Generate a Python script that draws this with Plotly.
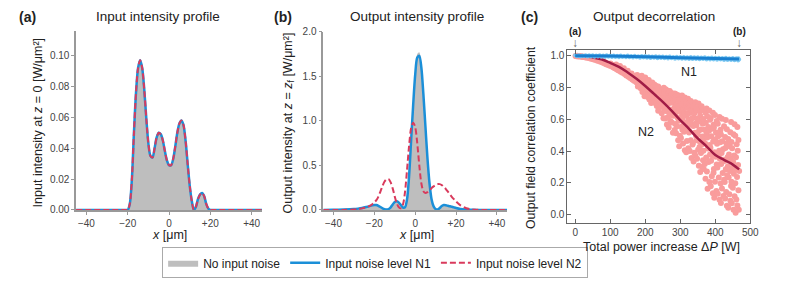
import plotly.graph_objects as go

FONT = "Liberation Sans, Arial, sans-serif"

# ---------------- Panel (a): input intensity profile ----------------
x_in = [-45, -21, -20, -19, -18, -17, -16, -15, -14, -13, -12, -11, -10, -9, -8, -7, -6, -5, -4, -3, -2, -1,
        0, 1, 2, 3, 4, 5, 6, 7, 8, 9, 10, 11, 12, 13, 14, 15, 16, 17, 18, 19, 20, 21, 45]
y_in = [0, 0, 0.000, 0.004, 0.020, 0.050, 0.076, 0.092, 0.097, 0.092, 0.078, 0.059, 0.043, 0.035, 0.034, 0.040,
        0.047, 0.050, 0.049, 0.045, 0.038, 0.032, 0.029, 0.029, 0.033, 0.041, 0.050, 0.056, 0.058, 0.055, 0.045,
        0.030, 0.016, 0.006, 0.000, 0.002, 0.007, 0.010, 0.011, 0.009, 0.004, 0.001, 0.000, 0, 0]

# ---------------- Panel (b): output intensity profile ----------------
x_out = [-45, -40, -35, -30, -28, -26, -24, -22,
         -21, -20, -19, -18, -17, -16, -15, -14, -13, -12, -11, -10, -9, -8, -7, -6, -5, -4, -3, -2, -1,
         0, 1, 2, 3, 4, 5, 6, 7, 8, 9, 10, 11, 12, 13, 14, 15, 16, 17, 18, 19, 20,
         22, 25, 28, 30, 35, 40, 45]
y_out_none = [0, 0.002, 0.005, 0.010, 0.015, 0.022, 0.033, 0.046,
              0.053, 0.057, 0.055, 0.046, 0.033, 0.019, 0.009, 0.005, 0.011, 0.030, 0.062, 0.090, 0.097, 0.083,
              0.055, 0.028, 0.030, 0.120, 0.380, 0.780, 1.180,
              1.550, 1.750, 1.770, 1.640, 1.330, 0.970, 0.600, 0.300, 0.120, 0.040, 0.010, 0.006, 0.022, 0.045,
              0.055, 0.053, 0.047, 0.041, 0.036, 0.029, 0.022,
              0.011, 0.004, 0.002, 0.001, 0, 0, 0]
y_out_n1 = [0, 0.002, 0.005, 0.010, 0.015, 0.022, 0.033, 0.046,
            0.053, 0.057, 0.055, 0.046, 0.033, 0.019, 0.009, 0.005, 0.011, 0.030, 0.062, 0.090, 0.097, 0.083,
            0.055, 0.028, 0.030, 0.120, 0.380, 0.780, 1.180,
            1.520, 1.710, 1.730, 1.600, 1.300, 0.940, 0.580, 0.300, 0.120, 0.040, 0.010, 0.006, 0.022, 0.045,
            0.055, 0.053, 0.047, 0.041, 0.036, 0.029, 0.022,
            0.011, 0.004, 0.002, 0.001, 0, 0, 0]
y_out_n2 = [0, 0, 0.001, 0.005, 0.010, 0.018, 0.030, 0.050,
            0.065, 0.085, 0.110, 0.150, 0.210, 0.270, 0.320, 0.345, 0.345, 0.310, 0.240, 0.150, 0.075, 0.030,
            0.020, 0.060, 0.200, 0.450, 0.720, 0.920, 0.980,
            0.930, 0.750, 0.500, 0.300, 0.210, 0.190, 0.200, 0.220, 0.245, 0.265, 0.280, 0.290, 0.290, 0.280,
            0.260, 0.235, 0.205, 0.175, 0.145, 0.120, 0.095,
            0.055, 0.020, 0.005, 0.002, 0, 0, 0]

# ---------------- Panel (c): output decorrelation ----------------
n1_mean_p = [0, 100, 200, 300, 400, 468]
n1_mean_r = [1.000, 0.998, 0.994, 0.988, 0.983, 0.979]
n1_points = [
    (0, 1.003), (10, 1.004), (20, 1.002), (30, 1.004), (40, 1.003), (50, 1.004), (60, 1.002), (70, 1.003),
    (80, 1.002), (90, 1.003), (100, 1.001), (110, 1.002), (120, 1.000), (130, 1.001), (140, 0.999),
    (150, 1.001), (160, 0.998), (170, 1.000), (180, 0.997), (190, 0.999), (200, 0.998), (210, 0.997),
    (220, 0.996), (230, 0.997), (240, 0.995), (250, 0.996), (260, 0.994), (270, 0.995), (280, 0.993),
    (290, 0.994), (300, 0.992), (310, 0.993), (320, 0.991), (330, 0.992), (340, 0.990), (350, 0.991),
    (360, 0.989), (370, 0.990), (380, 0.988), (390, 0.989), (400, 0.987), (410, 0.988), (420, 0.986),
    (430, 0.987), (440, 0.985), (450, 0.986), (460, 0.984), (466, 0.985),
    (5, 0.997), (15, 0.996), (25, 0.997), (35, 0.995), (45, 0.996), (55, 0.994), (65, 0.995), (75, 0.994),
    (85, 0.993), (95, 0.994), (105, 0.992), (115, 0.993), (125, 0.991), (135, 0.992), (145, 0.990),
    (155, 0.991), (165, 0.989), (175, 0.990), (185, 0.988), (195, 0.989), (205, 0.987), (215, 0.986),
    (225, 0.987), (235, 0.985), (245, 0.986), (255, 0.984), (265, 0.983), (275, 0.984), (285, 0.982),
    (295, 0.983), (305, 0.981), (315, 0.982), (325, 0.980), (335, 0.979), (345, 0.980), (355, 0.978),
    (365, 0.979), (375, 0.977), (385, 0.976), (395, 0.977), (405, 0.975), (415, 0.976), (425, 0.974),
    (435, 0.973), (445, 0.974), (455, 0.972), (465, 0.971), (468, 0.976),
]
n2_mean_p = [0, 25, 50, 75, 100, 125, 150, 175, 200, 225, 250, 275, 300, 325, 350, 375, 400, 425, 450, 468]
n2_mean_r = [1.000, 0.997, 0.990, 0.978, 0.955, 0.930, 0.895, 0.855, 0.810, 0.760, 0.710, 0.655, 0.595,
             0.540, 0.480, 0.430, 0.375, 0.345, 0.315, 0.285]
n2_points = [
    # 0-100 W
    (1, .999), (4, .997), (6, 1.0), (9, .996), (12, .998), (14, .995), (17, .997), (20, .993), (22, .996),
    (25, .992), (27, .994), (30, .989), (33, .993), (35, .987), (38, .990), (41, .984), (43, .988), (46, .981),
    (48, .986), (51, .978), (54, .983), (56, .975), (59, .979), (62, .971), (64, .976), (67, .967), (70, .972),
    (72, .962), (75, .968), (78, .958), (80, .964), (83, .953), (86, .958), (88, .947), (91, .952), (94, .942),
    (96, .948), (99, .937),
    # 100-175 W
    (101, .951), (103, .936), (106, .944), (108, .928), (110, .939), (113, .921), (115, .933), (117, .945),
    (119, .914), (121, .927), (124, .908), (126, .921), (128, .936), (130, .900), (132, .915), (135, .893),
    (137, .908), (139, .922), (141, .885), (143, .899), (146, .876), (148, .892), (150, .905), (152, .868),
    (154, .884), (157, .860), (159, .876), (161, .889), (163, .851), (165, .867), (168, .843), (170, .859),
    (172, .874), (174, .835),
    # 175-255 W
    (179, .806), (184, .821), (176, .834), (181, .842), (183, .851), (178, .858), (185, .866), (177, .879),
    (192, .772), (187, .795), (194, .809), (189, .818), (186, .829), (191, .840), (193, .852), (188, .861),
    (190, .874),
    (198, .745), (203, .768), (196, .781), (201, .797), (205, .806), (199, .815), (204, .829), (197, .843),
    (202, .851), (200, .863),
    (212, .724), (207, .741), (214, .762), (209, .770), (206, .788), (213, .796), (208, .807), (215, .822),
    (211, .835), (210, .848),
    (217, .703), (223, .728), (219, .739), (225, .755), (216, .769), (221, .781), (224, .793), (218, .804),
    (222, .818), (220, .832),
    (233, .684), (228, .702), (231, .717), (226, .738), (234, .744), (229, .759), (235, .776), (227, .788),
    (232, .797), (230, .811), (226, .819),
    (237, .654), (242, .679), (239, .693), (244, .711), (236, .722), (241, .737), (245, .751), (238, .763),
    (243, .778), (240, .789), (237, .806),
    (252, .606), (247, .638), (254, .660), (249, .681), (246, .694), (253, .709), (251, .722), (248, .738),
    (255, .749), (250, .766), (246, .781), (253, .798),
    # 255-468 W
    (262, .568), (257, .605), (264, .611), (259, .652), (256, .689), (263, .697), (260, .703), (258, .731),
    (265, .748), (261, .753), (255, .772), (263, .781), (258, .790),
    (267, .548), (272, .590), (275, .627), (268, .641), (270, .662), (266, .700), (274, .713), (271, .726),
    (269, .745), (273, .749), (275, .766), (267, .771), (270, .778),
    (279, .515), (284, .533), (276, .580), (281, .622), (285, .628), (278, .659), (283, .671), (277, .705),
    (282, .718), (280, .739), (276, .758), (284, .763),
    (294, .468), (288, .512), (291, .557), (286, .571), (293, .609), (289, .645), (295, .652), (287, .677),
    (290, .690), (292, .724), (286, .733), (294, .751), (288, .757),
    (297, .430), (302, .482), (299, .496), (304, .553), (296, .591), (301, .608), (305, .633), (298, .662),
    (303, .688), (300, .695), (297, .718), (302, .741), (305, .750),
    (313, .405), (308, .447), (311, .521), (306, .534), (315, .572), (309, .585), (307, .611), (312, .640),
    (310, .668), (314, .679), (308, .702), (306, .725), (313, .738),
    (317, .392), (323, .418), (319, .463), (325, .517), (321, .549), (316, .560), (324, .598), (318, .623),
    (322, .637), (320, .671), (325, .692), (317, .708), (322, .729),
    (332, .356), (327, .401), (335, .442), (330, .468), (326, .523), (333, .569), (329, .582), (334, .606),
    (328, .641), (331, .658), (335, .683), (326, .702), (330, .716),
    (338, .334), (343, .372), (340, .389), (336, .451), (345, .497), (342, .516), (337, .558), (344, .573),
    (339, .611), (341, .640), (345, .662), (337, .689), (343, .707),
    (353, .307), (348, .352), (351, .409), (355, .425), (347, .468), (350, .503), (354, .531), (346, .562),
    (352, .587), (349, .604), (355, .651), (348, .672), (352, .699),
    (357, .268), (362, .301), (365, .342), (359, .388), (361, .441), (356, .459), (363, .492), (358, .536),
    (364, .572), (360, .589), (357, .623), (363, .658), (361, .682),
    (372, .226), (367, .287), (370, .318), (374, .359), (366, .402), (371, .447), (368, .481), (375, .511),
    (369, .534), (373, .579), (366, .602), (372, .641), (375, .668),
    (378, .163), (383, .205), (376, .271), (381, .332), (385, .379), (379, .417), (384, .438), (377, .485),
    (382, .528), (380, .551), (385, .597), (377, .620), (383, .655),
    (393, .134), (387, .178), (390, .241), (395, .263), (388, .339), (392, .372), (386, .421), (394, .460),
    (389, .493), (391, .540), (395, .566), (387, .608), (393, .641),
    (397, .106), (403, .149), (399, .207), (396, .288), (404, .315), (401, .364), (398, .392), (405, .446),
    (400, .471), (402, .517), (396, .548), (404, .589), (399, .627),
    (412, .093), (407, .132), (415, .196), (410, .233), (406, .297), (413, .351), (409, .378), (411, .402),
    (414, .455), (408, .493), (415, .534), (407, .572), (412, .615),
    (416, .074), (423, .118), (419, .165), (425, .219), (421, .262), (417, .318), (424, .346), (418, .388),
    (422, .412), (420, .462), (416, .505), (425, .556), (419, .604),
    (433, .056), (428, .101), (431, .142), (427, .205), (434, .248), (430, .286), (426, .337), (435, .361),
    (429, .419), (432, .447), (428, .488), (433, .537), (430, .596),
    (437, .043), (443, .087), (440, .128), (445, .181), (438, .236), (442, .274), (436, .305), (444, .352),
    (439, .378), (441, .431), (437, .476), (443, .519), (445, .583),
    (452, .031), (447, .072), (455, .115), (450, .169), (446, .207), (453, .258), (449, .293), (451, .331),
    (454, .372), (448, .418), (446, .457), (452, .506), (455, .569),
    (458, .012), (463, .058), (460, .096), (466, .153), (457, .198), (462, .237), (456, .281), (465, .312),
    (459, .361), (464, .402), (461, .443), (457, .497), (463, .551), (467, .030), (468, .275), (466, .470),
]

# tick labels
x_prof_ticks = [-40, -20, 0, 20, 40]
x_prof_text = ["−40", "−20", "0", "+20", "+40"]
y_in_ticks = [0.00, 0.02, 0.04, 0.06, 0.08, 0.10]
y_out_ticks = [0.0, 0.5, 1.0, 1.5, 2.0]
p_ticks = [0, 100, 200, 300, 400, 500]
r_ticks = [0.0, 0.2, 0.4, 0.6, 0.8, 1.0]

GRAY = "#bebebe"
BLUE = "#1b8fd8"
RED = "#d93a5c"
DASH = "6px,3px"

fig = go.Figure()

# (a)
fig.add_trace(go.Scatter(x=x_in, y=y_in, mode="lines", fill="tozeroy", fillcolor=GRAY,
                         line=dict(width=0, shape="spline", smoothing=0.8, color=GRAY),
                         name="No input noise", legendgroup="none", xaxis="x", yaxis="y"))
fig.add_trace(go.Scatter(x=x_in, y=y_in, mode="lines",
                         line=dict(width=2.5, shape="spline", smoothing=0.8, color=BLUE),
                         name="Input noise level N1", legendgroup="n1", xaxis="x", yaxis="y"))
fig.add_trace(go.Scatter(x=x_in, y=y_in, mode="lines",
                         line=dict(width=2, shape="spline", smoothing=0.8, color=RED, dash=DASH),
                         name="Input noise level N2", legendgroup="n2", xaxis="x", yaxis="y"))
# (b)
fig.add_trace(go.Scatter(x=x_out, y=y_out_none, mode="lines", fill="tozeroy", fillcolor=GRAY,
                         line=dict(width=0, shape="spline", smoothing=0.8, color=GRAY),
                         showlegend=False, xaxis="x2", yaxis="y2"))
fig.add_trace(go.Scatter(x=x_out, y=y_out_n1, mode="lines",
                         line=dict(width=2.5, shape="spline", smoothing=0.8, color=BLUE),
                         showlegend=False, xaxis="x2", yaxis="y2"))
fig.add_trace(go.Scatter(x=x_out, y=y_out_n2, mode="lines",
                         line=dict(width=2, shape="spline", smoothing=0.8, color=RED, dash=DASH),
                         showlegend=False, xaxis="x2", yaxis="y2"))
# (c)
fig.add_trace(go.Scatter(x=[p for p, r in n2_points], y=[r for p, r in n2_points], mode="markers",
                         marker=dict(size=6, color="#f99c9c"), showlegend=False, xaxis="x3", yaxis="y3"))
fig.add_trace(go.Scatter(x=n2_mean_p, y=n2_mean_r, mode="lines",
                         line=dict(width=2.5, color="#a11c46", shape="spline"),
                         showlegend=False, xaxis="x3", yaxis="y3"))
fig.add_trace(go.Scatter(x=[p for p, r in n1_points], y=[r for p, r in n1_points], mode="markers",
                         marker=dict(size=4, color="#7cc8f2"), showlegend=False, xaxis="x3", yaxis="y3"))
fig.add_trace(go.Scatter(x=n1_mean_p, y=n1_mean_r, mode="lines",
                         line=dict(width=3, color="#1a80d0", shape="spline"),
                         showlegend=False, xaxis="x3", yaxis="y3"))

W, H = 789, 283


def px(x):
    return x / W


def py(y):
    return 1 - y / H


tickfont = dict(family=FONT, size=10, color="#444")
prof_axis = dict(showline=True, linecolor="#999", linewidth=1.5, ticks="outside", ticklen=3,
                 tickcolor="#999", showgrid=False, zeroline=False, tickfont=tickfont)
box_axis = dict(showline=True, linecolor="#666", linewidth=1, mirror="ticks", ticks="inside", ticklen=4,
                tickcolor="#666", showgrid=False, zeroline=False, tickfont=tickfont)

fig.update_layout(
    width=W, height=H,
    margin=dict(l=0, r=0, t=0, b=0),
    paper_bgcolor="white", plot_bgcolor="white",
    font=dict(family=FONT, color="#222"),
    xaxis=dict(domain=[px(77), px(265)], range=[-45, 45], tickvals=x_prof_ticks, ticktext=x_prof_text,
               anchor="y", **prof_axis),
    yaxis=dict(domain=[py(213), py(26)], range=[0, 0.116], tickvals=y_in_ticks, tickformat=".2f",
               anchor="x", **prof_axis),
    xaxis2=dict(domain=[px(327), px(513)], range=[-45, 45], tickvals=x_prof_ticks, ticktext=x_prof_text,
                anchor="y2", **prof_axis),
    yaxis2=dict(domain=[py(213), py(27)], range=[0, 2.0], tickvals=y_out_ticks, tickformat=".1f",
                anchor="x2", **prof_axis),
    xaxis3=dict(domain=[px(574), px(759)], range=[-22, 500], tickvals=p_ticks, anchor="y3", **box_axis),
    yaxis3=dict(domain=[py(227), py(46)], range=[-0.055, 1.036], tickvals=r_ticks, tickformat=".1f",
                anchor="x3", **box_axis),
    legend=dict(orientation="h", x=px(164), y=py(252), xanchor="left", yanchor="top",
                bordercolor="#aaa", borderwidth=1, font=dict(family=FONT, size=12, color="#222"),
                itemwidth=30, traceorder="normal", tracegroupgap=0),
)

ann = []


def add_text(x, y, text, size, angle=0, bold=False, xref="paper", yref="paper", color="#222"):
    ann.append(dict(x=x, y=y, xref=xref, yref=yref, text=f"<b>{text}</b>" if bold else text,
                    showarrow=False, textangle=angle, xanchor="center", yanchor="middle",
                    font=dict(family=FONT, size=size, color=color)))


# panel labels and titles
add_text(px(28), py(12), "(a)", 14, bold=True)
add_text(px(286), py(12), "(b)", 14, bold=True)
add_text(px(536), py(12), "(c)", 14, bold=True)
add_text(px(160), py(11), "Input intensity profile", 13.5)
add_text(px(422), py(11), "Output intensity profile", 13.5)
add_text(px(662), py(11), "Output decorrelation", 13.5)
# axis titles
add_text(px(171), py(239), "<i>x</i> [μm]", 12.5)
add_text(px(421), py(239), "<i>x</i> [μm]", 12.5)
add_text(px(669), py(252), "Total power increase Δ<i>P</i> [W]", 12.5)
add_text(px(38), py(122), "Input intensity at <i>z</i> = 0 [W/μm²]", 12.5, angle=-90)
add_text(px(292), py(122), "Output intensity at <i>z</i> = <i>z</i><sub>f</sub> [W/μm²]", 12.5, angle=-90)
add_text(px(537), py(137), "Output field correlation coefficient", 12.3, angle=-90)
# series labels in (c)
add_text(326, 0.90, "N1", 12.5, xref="x3", yref="y3")
add_text(203, 0.52, "N2", 12.5, xref="x3", yref="y3")
# arrows marking (a) and (b)
add_text(0, py(27), "(a)", 10, bold=True, xref="x3")
add_text(468, py(27), "(b)", 10, bold=True, xref="x3")
add_text(0, py(39), "↓", 12, xref="x3", color="#666")
add_text(468, py(39), "↓", 12, xref="x3", color="#666")

fig.update_layout(annotations=ann)
fig.write_html("out.html", config={"displayModeBar": False},
               post_script="document.body.style.margin='0';")
